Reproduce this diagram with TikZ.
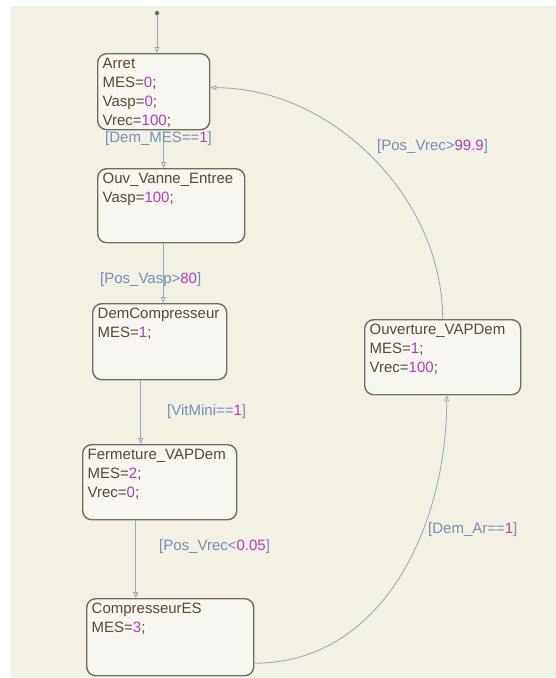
\documentclass[tikz,border=0pt]{standalone}
\usepackage{fontspec}
\setmainfont{Liberation Sans}
\usetikzlibrary{arrows.meta,positioning}
\definecolor{bgcol}{HTML}{F3F1E4}
\definecolor{boxfill}{HTML}{F8F6F0}
\definecolor{boxline}{HTML}{716C62}
\definecolor{txtcol}{HTML}{574838}
\definecolor{numcol}{HTML}{B43CBE}
\definecolor{guardcol}{HTML}{7090BC}
\definecolor{transcol}{HTML}{95A7BA}
\newcommand{\numv}[1]{\textcolor{numcol}{#1}}

\begin{document}
\begin{tikzpicture}[x=1pt,y=-1pt,
	font=\fontsize{15}{19.3}\selectfont,
	state/.style={draw=boxline, line width=1.4pt, fill=boxfill, rounded corners=9pt, anchor=north west, inner xsep=5pt, inner ysep=4pt, text=txtcol},
	trans/.style={draw=transcol, line width=0.8pt, -{Triangle[open,length=6pt,width=5pt]}},
	guard/.style={anchor=west, inner sep=0pt, text=guardcol}]
	\useasboundingbox (0,0) rectangle (556,678);
	\fill[white] (0,0) rectangle (556,678);
	\fill[bgcol] (11,6) rectangle (556,677);
	
	\node[state] (arret) at (97,53) {\parbox[c][68pt][t]{102pt}{Arret\\MES=\numv{0};\\Vasp=\numv{0};\\Vrec=\numv{100};}};
	\node[state] (ouv) at (97,168) {\parbox[c][66pt][t]{137pt}{Ouv\_Vanne\_Entree\\Vasp=\numv{100};}};
	\node[state] (demc) at (92,303) {\parbox[c][68pt][t]{124pt}{DemCompresseur\\MES=\numv{1};}};
	\node[state] (ferm) at (82,444) {\parbox[c][67pt][t]{144pt}{Fermeture\_VAPDem\\MES=\numv{2};\\Vrec=\numv{0};}};
	\node[state] (compes) at (86,598) {\parbox[c][69pt][t]{157pt}{CompresseurES\\MES=\numv{3};}};
	\node[state] (ouvert) at (364,319) {\parbox[c][67pt][t]{146pt}{Ouverture\_VAPDem\\MES=\numv{1};\\Vrec=\numv{100};}};
	
	\node[circle, fill=boxline, inner sep=0pt, minimum size=4.5pt] (init) at (157,13) {};
	
	\draw[trans] (init) -- (init |- arret.north);
	\draw[trans] ([xshift=10pt]arret.south) -- ([xshift=10pt]arret.south |- ouv.north);
	\draw[trans] ([xshift=-8pt]ouv.south) -- ([xshift=-8pt]ouv.south |- demc.north);
	\draw[trans] ([xshift=-19pt]demc.south) -- ([xshift=-19pt]demc.south |- ferm.north);
	\draw[trans] ([xshift=-24pt]ferm.south) -- ([xshift=-24pt]ferm.south |- compes.north);
	\draw[trans] ([yshift=-26pt]compes.east) to[out=0,in=-90] ([xshift=4pt]ouvert.south);
	\draw[trans] (ouvert.north) to[out=90,in=0,looseness=0.95] ([yshift=4pt]arret.east);
	
	\node[guard] (g1) at (105,138.5) {[Dem\_MES==\numv{1}]};
	\node[guard] (g2) at (100,280) {[Pos\_Vasp>\numv{80}]};
	\node[guard] (g3) at (167,412) {[VitMini==\numv{1}]};
	\node[guard] (g4) at (159,547) {[Pos\_Vrec<\numv{0.05}]};
	\node[guard] (g5) at (377,147) {[Pos\_Vrec>\numv{99.9}]};
	\node[guard] (g6) at (428,530) {[Dem\_Ar==\numv{1}]};
\end{tikzpicture}
\end{document}
